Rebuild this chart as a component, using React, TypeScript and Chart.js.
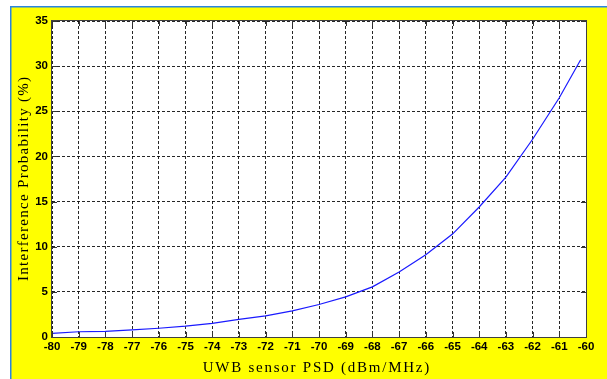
import React, { useEffect, useRef } from 'react';
import { Chart, registerables } from 'chart.js';

Chart.register(...registerables);

// UWB sensor PSD (dBm/MHz)
const psd = [-80, -79, -78, -77, -76, -75, -74, -73, -72, -71, -70, -69, -68, -67, -66, -65, -64, -63, -62, -61, -60.2];
// Interference probability (%)
const probability = [0.4, 0.58, 0.62, 0.78, 0.97, 1.2, 1.5, 1.95, 2.35, 2.9, 3.6, 4.45, 5.55, 7.2, 9.1, 11.4, 14.4, 17.7, 21.9, 26.5, 30.7];

const xMin = -80;
const xMax = -60;
const yMin = 0;
const yMax = 35;
const yStep = 5;
const xStep = 1;

const xTitle = 'UWB sensor PSD (dBm/MHz)';
const yTitle = 'Interference Probability (%)';

const TITLE_FONT = '15px "Liberation Serif", "Times New Roman", serif';

function drawSpaced(ctx: any, text: string, cx: number, cy: number, spacing: number) {
  ctx.font = TITLE_FONT;
  (ctx as any).letterSpacing = spacing + 'px';
  const w = ctx.measureText(text).width - spacing;
  ctx.textAlign = 'left';
  ctx.textBaseline = 'middle';
  ctx.fillText(text, cx - w / 2, cy);
}

const framePlugin = {
  id: 'frame',
  beforeDraw(chart: any) {
    const { ctx, width, height, chartArea: a } = chart;
    ctx.save();
    ctx.fillStyle = '#ffffff';
    ctx.fillRect(0, 0, width, height);
    ctx.fillStyle = '#ffff00';
    ctx.fillRect(10, 6, width - 10, height - 6);
    ctx.fillStyle = '#2a86e0';
    ctx.fillRect(10, 6, width - 10, 1.5);
    ctx.fillRect(10, 6, 1.5, height - 6);
    ctx.fillStyle = '#ffffff';
    ctx.fillRect(a.left, a.top, a.right - a.left, a.bottom - a.top);
    ctx.restore();
  },
  afterDraw(chart: any) {
    const { ctx, chartArea: a, scales } = chart;
    const xs = scales.x;
    const ys = scales.y;
    ctx.save();
    ctx.strokeStyle = '#333333';
    ctx.lineWidth = 1;
    ctx.beginPath();
    const tl = 5;
    xs.ticks.forEach((t: any) => {
      const px = Math.round(xs.getPixelForValue(t.value)) + 0.5;
      ctx.moveTo(px, a.bottom);
      ctx.lineTo(px, a.bottom - tl);
      ctx.moveTo(px, a.top);
      ctx.lineTo(px, a.top + tl);
    });
    ys.ticks.forEach((t: any) => {
      const py = Math.round(ys.getPixelForValue(t.value)) + 0.5;
      ctx.moveTo(a.left, py);
      ctx.lineTo(a.left + tl, py);
      ctx.moveTo(a.right, py);
      ctx.lineTo(a.right - tl, py);
    });
    ctx.stroke();
    ctx.strokeStyle = '#404040';
    ctx.strokeRect(a.left - 0.5, a.top - 0.5, a.right - a.left + 1, a.bottom - a.top + 1);
    ctx.restore();

    // axis titles
    ctx.save();
    ctx.fillStyle = '#000000';
    drawSpaced(ctx, xTitle, (a.left + a.right) / 2 - 3, 368, 1.75);
    ctx.restore();
    ctx.save();
    ctx.fillStyle = '#000000';
    ctx.translate(24, (a.top + a.bottom) / 2);
    ctx.rotate(-Math.PI / 2);
    drawSpaced(ctx, yTitle, 0, 0, 1.3);
    ctx.restore();
  },
};

export default function App() {
  const ref = useRef<HTMLCanvasElement | null>(null);

  useEffect(() => {
    if (!ref.current) return;
    const tickFont = { family: '"Liberation Sans", Arial, sans-serif', size: 11.5, weight: 'bold' as const };
    const gridStyle = {
      color: 'rgba(0,0,0,0.85)',
      lineWidth: 1,
      drawTicks: false,
    };
    const chart = new Chart(ref.current, {
      type: 'line',
      data: {
        datasets: [
          {
            data: psd.map((x, i) => ({ x, y: probability[i] })),
            borderColor: '#1a1aff',
            borderWidth: 1.2,
            pointRadius: 0,
            tension: 0,
            fill: false,
          },
        ],
      },
      options: {
        animation: false,
        responsive: false,
        devicePixelRatio: 1,
        layout: { padding: { left: 11, right: 21, top: 21, bottom: 0 } },
        plugins: { legend: { display: false }, tooltip: { enabled: false } },
        scales: {
          x: {
            type: 'linear',
            min: xMin,
            max: xMax,
            afterFit: (s: any) => { s.height = 42; },
            ticks: { stepSize: xStep, color: '#000', font: tickFont, padding: 3, maxRotation: 0, autoSkip: false },
            grid: gridStyle,
            border: { display: false, dash: [3, 2] },
            title: { display: false, text: xTitle },
          },
          y: {
            type: 'linear',
            min: yMin,
            max: yMax,
            afterFit: (s: any) => { s.width = 41; },
            ticks: { stepSize: yStep, color: '#000', font: tickFont, padding: 4 },
            grid: gridStyle,
            border: { display: false, dash: [3, 2] },
            title: { display: false, text: yTitle },
          },
        },
      },
      plugins: [framePlugin],
    });
    return () => chart.destroy();
  }, []);

  return (
    <div style={{ position: 'absolute', left: 0, top: 0, width: 607, height: 379 }}>
      <canvas ref={ref} width={607} height={379} style={{ display: 'block', width: 607, height: 379 }} />
    </div>
  );
}
